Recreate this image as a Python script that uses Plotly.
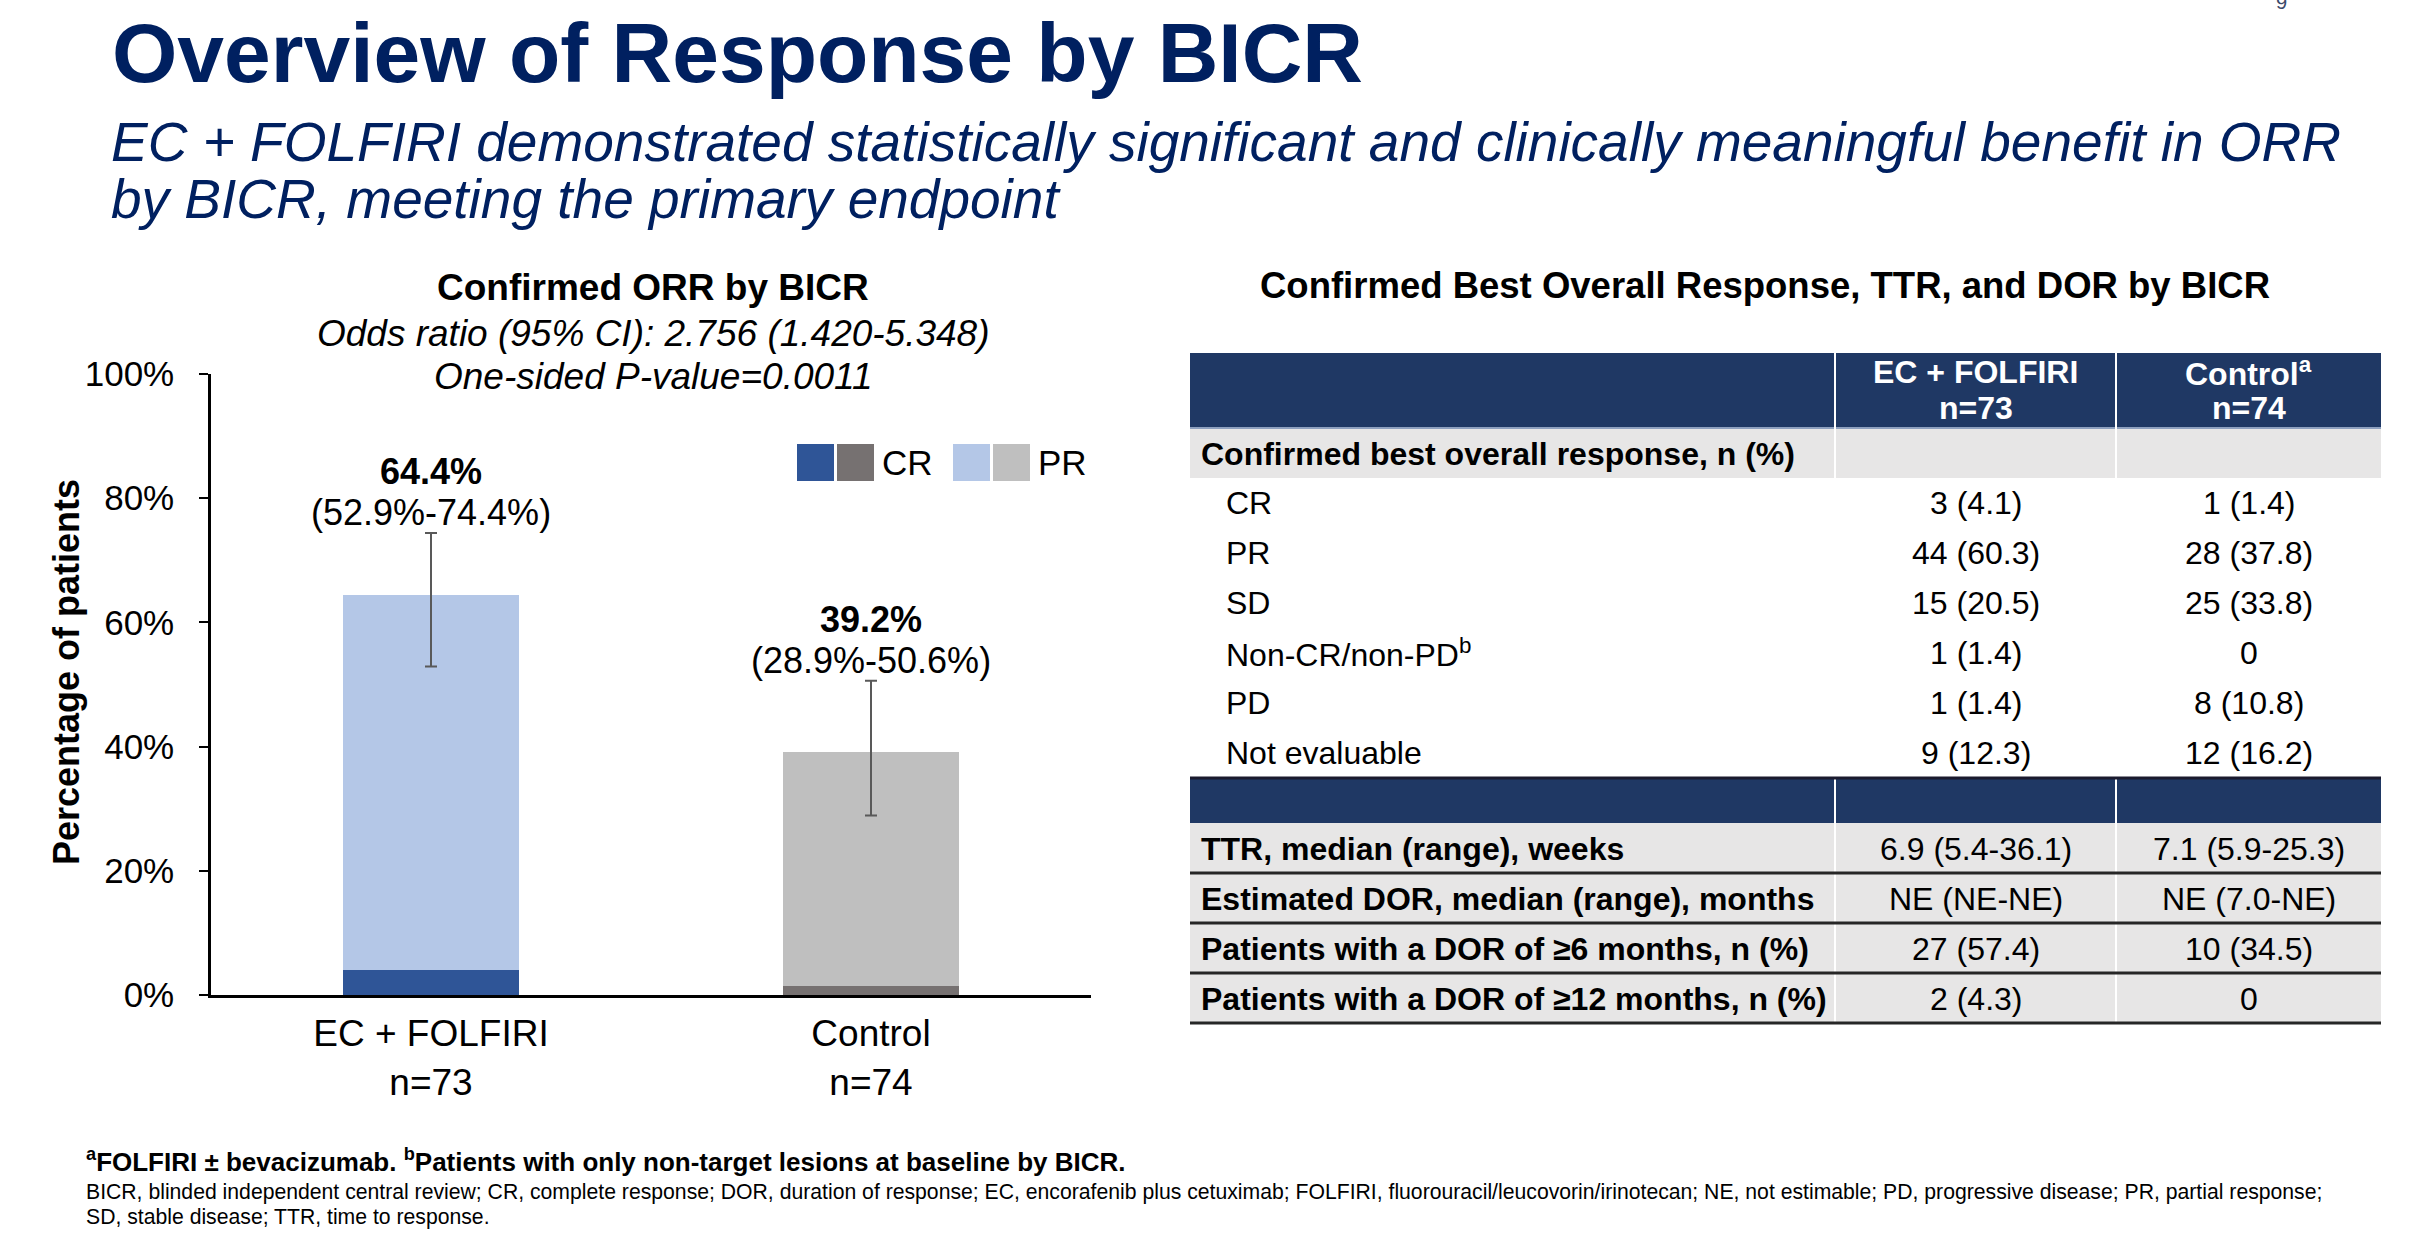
import plotly.graph_objects as go

W, H = 2410, 1233
FONT = "Arial, Liberation Sans, Helvetica, sans-serif"
NAVY = "#002060"
TBL_NAVY = "#1F3864"
TBL_GRAY = "#E7E6E6"

# ---------------- Data: bar chart ----------------
arms = ["EC + FOLFIRI", "Control"]
arm_n = [73, 74]
cr_pct = [4.1, 1.4]
pr_pct = [60.3, 37.8]
orr_pct = [64.4, 39.2]
ci_low = [52.9, 28.9]
ci_high = [74.4, 50.6]
cr_colors = ["#2F5597", "#767171"]
pr_colors = ["#B4C7E7", "#BFBFBF"]
y_ticks = [0, 20, 40, 60, 80, 100]
y_tick_labels = ["0%", "20%", "40%", "60%", "80%", "100%"]
legend_labels = ["CR", "PR"]
legend_colors = [cr_colors, pr_colors]

# ---------------- Data: table ----------------
tbl_cols = ["EC + FOLFIRI", "Control<sup>a</sup>"]
tbl_col_n = ["n=73", "n=74"]
bor_header = "Confirmed best overall response, n (%)"
bor_labels = ["CR", "PR", "SD", "Non-CR/non-PD<sup>b</sup>", "PD", "Not evaluable"]
bor_ec = ["3 (4.1)", "44 (60.3)", "15 (20.5)", "1 (1.4)", "1 (1.4)", "9 (12.3)"]
bor_ctrl = ["1 (1.4)", "28 (37.8)", "25 (33.8)", "0", "8 (10.8)", "12 (16.2)"]
dur_labels = ["TTR, median (range), weeks",
              "Estimated DOR, median (range), months",
              "Patients with a DOR of ≥6 months, n (%)",
              "Patients with a DOR of ≥12 months, n (%)"]
dur_ec = ["6.9 (5.4-36.1)", "NE (NE-NE)", "27 (57.4)", "2 (4.3)"]
dur_ctrl = ["7.1 (5.9-25.3)", "NE (7.0-NE)", "10 (34.5)", "0"]

title = "Overview of Response by BICR"
subtitle = ["EC + FOLFIRI demonstrated statistically significant and clinically meaningful benefit in ORR",
            "by BICR, meeting the primary endpoint"]
chart_title = "Confirmed ORR by BICR"
chart_sub = ["Odds ratio (95% CI): 2.756 (1.420-5.348)", "One-sided P-value=0.0011"]
table_title = "Confirmed Best Overall Response, TTR, and DOR by BICR"
foot_bold = "<sup>a</sup>FOLFIRI ± bevacizumab. <sup>b</sup>Patients with only non-target lesions at baseline by BICR."
foot_lines = ["BICR, blinded independent central review; CR, complete response; DOR, duration of response; EC, encorafenib plus cetuximab; FOLFIRI, fluorouracil/leucovorin/irinotecan; NE, not estimable; PD, progressive disease; PR, partial response;",
              "SD, stable disease; TTR, time to response."]


def px(x):
    return x / W


def py(y):
    return 1 - y / H


fig = go.Figure()

fig.add_trace(go.Bar(x=arms, y=cr_pct, width=0.4, name="CR",
                     marker=dict(color=cr_colors, line=dict(width=0)),
                     showlegend=False, hoverinfo="skip"))
fig.add_trace(go.Bar(x=arms, y=pr_pct, width=0.4, name="PR",
                     marker=dict(color=pr_colors, line=dict(width=0)),
                     showlegend=False, hoverinfo="skip"))
fig.add_trace(go.Scatter(
    x=arms, y=orr_pct, mode="markers",
    marker=dict(size=1, opacity=0),
    error_y=dict(type="data", symmetric=False,
                 array=[h - o for h, o in zip(ci_high, orr_pct)],
                 arrayminus=[o - l for o, l in zip(orr_pct, ci_low)],
                 color="#595959", thickness=2, width=6),
    showlegend=False, hoverinfo="skip"))

ann = []
shapes = []


def text(x, y, s, size, color="black", xanchor="center", yanchor="middle", **kw):
    ann.append(dict(x=px(x), y=py(y), xref="paper", yref="paper", text=s, showarrow=False,
                    xanchor=xanchor, yanchor=yanchor,
                    font=dict(family=FONT, size=size, color=color), **kw))


def rect(x0, y0, x1, y1, color):
    shapes.append(dict(type="rect", xref="paper", yref="paper",
                       x0=px(x0), x1=px(x1), y0=py(y1), y1=py(y0),
                       fillcolor=color, line=dict(width=0), layer="below"))


def hline(x0, x1, y, color, width):
    shapes.append(dict(type="line", xref="paper", yref="paper",
                       x0=px(x0), x1=px(x1), y0=py(y), y1=py(y),
                       line=dict(color=color, width=width)))


def vline(x, y0, y1, color, width):
    shapes.append(dict(type="line", xref="paper", yref="paper",
                       x0=px(x), x1=px(x), y0=py(y0), y1=py(y1),
                       line=dict(color=color, width=width)))


# Titles
text(110, 53, "<b>" + title + "</b>", 84, NAVY, xanchor="left")
text(109, 142, "<i>" + subtitle[0] + "</i>", 55, NAVY, xanchor="left")
text(109, 199, "<i>" + subtitle[1] + "</i>", 55, NAVY, xanchor="left")
text(2281, 2, "9", 20, "#3B4A6B")

# Chart titles
text(653, 287, "<b>" + chart_title + "</b>", 37)
text(653, 333, "<i>" + chart_sub[0] + "</i>", 37)
text(653, 376, "<i>" + chart_sub[1] + "</i>", 37)

# Y axis title
text(66, 672, "<b>Percentage of patients</b>", 36, textangle=-90)

# Bar labels
for a, o, hi in zip(arms, orr_pct, ci_high):
    ann.append(dict(x=a, y=hi, xref="x", yref="y", text=f"<b>{o:.1f}%</b>", showarrow=False,
                    yanchor="middle", yshift=61, font=dict(family=FONT, size=36, color="black")))
for a, lo, hi in zip(arms, ci_low, ci_high):
    ann.append(dict(x=a, y=hi, xref="x", yref="y", text=f"({lo:.1f}%-{hi:.1f}%)", showarrow=False,
                    yanchor="middle", yshift=20, font=dict(family=FONT, size=36, color="black")))

# Custom legend
lx = 797
for lab, cols in zip(legend_labels, legend_colors):
    for c in cols:
        rect(lx, 444, lx + 37, 481, c)
        lx += 40
    text(lx + 3, 462, lab, 35, xanchor="left")
    lx += 76

# ---------------- Table ----------------
TL, TR = 1190, 2381
C1, C2 = 1835, 2116
colc = [(C1 + C2) / 2, (C2 + TR) / 2]
hdr_top, hdr_bot = 353, 428
sub_bot = 478
row_h = 50
band_top = sub_bot + row_h * len(bor_labels)
band_bot = band_top + 45
dur_bot = band_bot + row_h * len(dur_labels)
TF = 32

text((TL + TR) / 2 - 20, 285, "<b>" + table_title + "</b>", 36.5)

rect(TL, hdr_top, TR, hdr_bot, TBL_NAVY)
rect(TL, hdr_bot, TR, sub_bot, TBL_GRAY)
rect(TL, band_top, TR, band_bot, TBL_NAVY)
rect(TL, band_bot, TR, dur_bot, TBL_GRAY)
hline(TL, TR, hdr_bot, "#8EA0BF", 2)
for cx in (C1, C2):
    vline(cx, hdr_top, sub_bot, "white", 2)
    vline(cx, band_top, dur_bot, "white", 2)
hline(TL, TR, band_top, "#1A1A2E", 3)
for i in range(len(dur_labels)):
    hline(TL, TR, band_bot + row_h * (i + 1), "#262626", 3)

for i, (c, n) in enumerate(zip(tbl_cols, tbl_col_n)):
    text(colc[i], 372, "<b>" + c + "</b>", TF, "white")
    text(colc[i], 408, "<b>" + n + "</b>", TF, "white")

text(1199, (hdr_bot + sub_bot) / 2 + 1, "<b>" + bor_header + "</b>", TF, xanchor="left")
for i, (lab, v1, v2) in enumerate(zip(bor_labels, bor_ec, bor_ctrl)):
    yc = sub_bot + row_h * i + row_h / 2
    text(1224, yc, lab, TF, xanchor="left")
    text(colc[0], yc, v1, TF)
    text(colc[1], yc, v2, TF)
for i, (lab, v1, v2) in enumerate(zip(dur_labels, dur_ec, dur_ctrl)):
    yc = band_bot + row_h * i + row_h / 2 + 1
    text(1199, yc, "<b>" + lab + "</b>", TF, xanchor="left")
    text(colc[0], yc, v1, TF)
    text(colc[1], yc, v2, TF)

# Footnotes
text(84, 1160, "<b>" + foot_bold + "</b>", 26, xanchor="left")
text(84, 1192, foot_lines[0], 21.2, xanchor="left")
text(84, 1217, foot_lines[1], 21.2, xanchor="left")

fig.update_layout(
    width=W, height=H, autosize=False,
    margin=dict(l=0, r=0, t=0, b=0, pad=0, autoexpand=False),
    paper_bgcolor="white", plot_bgcolor="white",
    barmode="stack", bargap=0.6, showlegend=False,
    font=dict(family=FONT, color="black"),
    annotations=ann, shapes=shapes,
    xaxis=dict(domain=[px(211), px(1091)], type="category", range=[-0.5, 1.5],
               tickvals=arms, ticktext=[f"{a}<br>n={n}" for a, n in zip(arms, arm_n)],
               tickfont=dict(family=FONT, size=37, color="black"),
               showline=True, linecolor="black", linewidth=3, ticks="",
               ticklabelstandoff=4, showgrid=False, zeroline=False, fixedrange=True,
               automargin=False),
    yaxis=dict(domain=[py(995), py(374)], range=[0, 100], tickmode="array",
               tickvals=y_ticks, ticktext=y_tick_labels,
               tickfont=dict(family=FONT, size=35, color="black"),
               showline=True, linecolor="black", linewidth=2.5,
               ticks="outside", ticklen=9, tickwidth=2, tickcolor="black",
               ticklabelstandoff=18, showgrid=False, zeroline=False, fixedrange=True,
               automargin=False),
)

fig.write_html("out.html", config={"displayModeBar": False},
               post_script="document.body.style.margin='0px';")
